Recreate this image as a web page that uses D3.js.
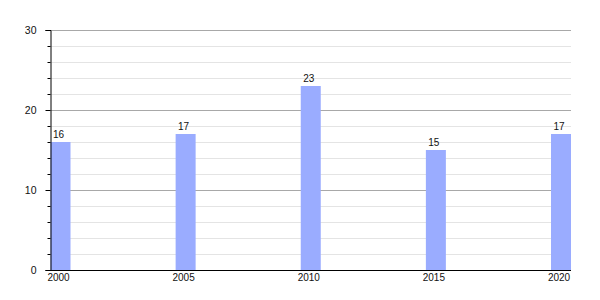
<!doctype html>
<html lang="en">
<head>
  <meta charset="utf-8">
  <title>Chart</title>
  <style>
    body { margin: 0; background: #fff; }
    svg text { font-family: "Liberation Sans", Arial, sans-serif; font-size: 10px; fill: #111; }
    .minor line { stroke: #e4e4e4; }
    .major line { stroke: #a8a8a8; }
  </style>
</head>
<body>
  <div id="chart"></div>
  <script src="https://cdn.jsdelivr.net/npm/d3@7"></script>
  <script>
(function(){

  var years = [2000, 2005, 2010, 2015, 2020];
  var values = [16, 17, 23, 15, 17];
  var yMajor = [0, 10, 20, 30];

  var width = 600, height = 300;
  var left = 50.5, right = 571, top = 30, bottom = 270;
  var barW = 20;

  var svg = d3.select("#chart").append("svg")
      .attr("width", width)
      .attr("height", height);

  var x = d3.scaleLinear().domain([2000, 2020]).range([left + barW / 2, right - barW / 2]);
  var y = d3.scaleLinear().domain([0, 30]).range([bottom, top]);

  var minorVals = d3.range(2, 30, 2).filter(function(d){ return d % 10; });

  // minor gridlines every 2
  svg.append("g").attr("class", "minor")
    .selectAll("line").data(minorVals)
    .enter().append("line")
      .attr("x1", left).attr("x2", right)
      .attr("y1", function(d){ return Math.round(y(d)) + 0.5; })
      .attr("y2", function(d){ return Math.round(y(d)) + 0.5; });

  // major gridlines
  svg.append("g").attr("class", "major")
    .selectAll("line").data(yMajor.slice(1))
    .enter().append("line")
      .attr("x1", left).attr("x2", right)
      .attr("y1", function(d){ return Math.round(y(d)) + 0.5; })
      .attr("y2", function(d){ return Math.round(y(d)) + 0.5; });

  // bars
  svg.append("g").selectAll("rect").data(values)
    .enter().append("rect")
      .attr("x", function(d, i){ return x(years[i]) - barW / 2; })
      .attr("y", function(d){ return y(d); })
      .attr("width", barW)
      .attr("height", function(d){ return bottom - y(d); })
      .attr("fill", "#9aacff");

  // value labels
  svg.append("g").selectAll("text").data(values)
    .enter().append("text")
      .attr("x", function(d, i){ return x(years[i]) - 2; })
      .attr("y", function(d){ return y(d) - 4.5; })
      .attr("text-anchor", "middle")
      .text(function(d){ return d; });

  // y axis
  var yAxis = d3.axisLeft(y).tickValues(yMajor).tickSize(5).tickPadding(9).tickFormat(d3.format("d"));
  var ya = svg.append("g").attr("transform", "translate(" + left + ",0)").call(yAxis);
  ya.select(".domain").attr("stroke", "#000");
  ya.selectAll(".tick line").attr("stroke", "#000");
  ya.selectAll("text").style("font-size", "10.5px");

  var yMinor = d3.axisLeft(y).tickValues(minorVals).tickSize(3).tickFormat("");
  var ym = svg.append("g").attr("transform", "translate(" + left + ",0)").call(yMinor);
  ym.select(".domain").remove();
  ym.selectAll(".tick line").attr("stroke", "#000");

  // x axis
  var xAxis = d3.axisBottom(x).tickValues(years).tickSize(0).tickPadding(4).tickFormat(d3.format("d"));
  var xa = svg.append("g").attr("transform", "translate(0," + bottom + ")").call(xAxis);
  xa.select(".domain").attr("stroke", "#000").attr("d", "M" + left + ",0.5H" + right);
  xa.selectAll(".tick").attr("transform", function(d){ return "translate(" + (x(d) - 2) + ",0)"; });

})();
  </script>
</body>
</html>
